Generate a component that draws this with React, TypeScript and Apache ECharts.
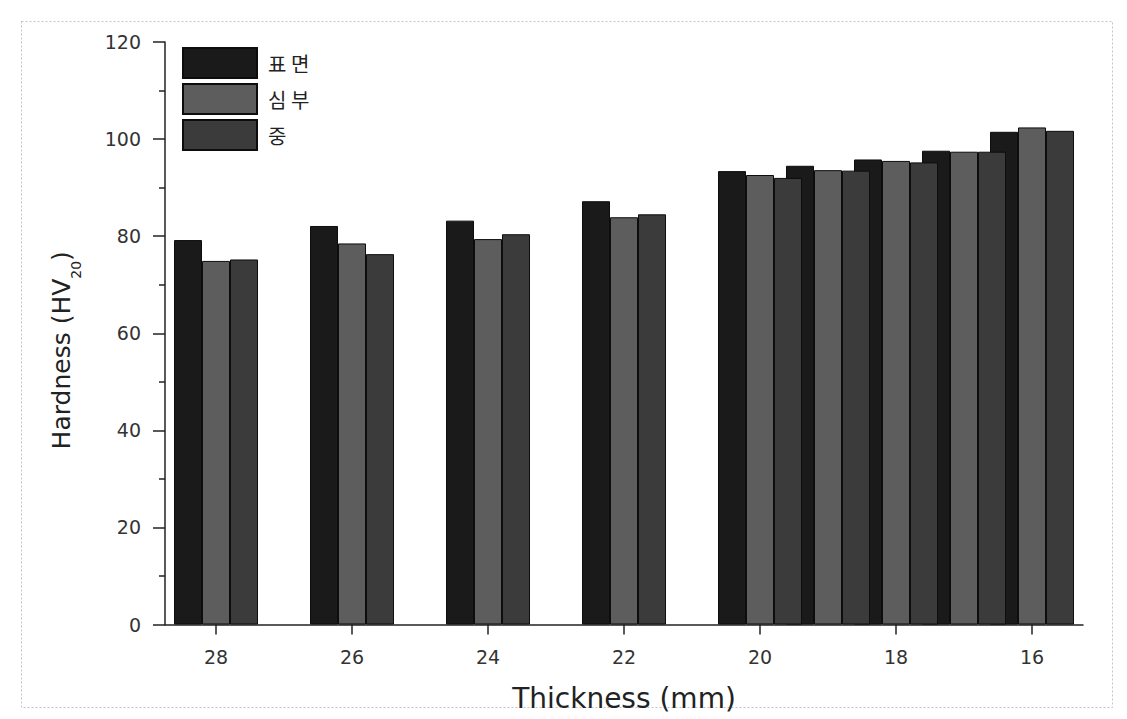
import { useEffect, useRef } from "react";
import * as echarts from "echarts";

// Thickness categories (mm), read left to right
const thickness = [28, 26, 24, 22, 20, 19, 18, 17, 16];
// Hardness values per series
const surface = [79.2, 82.1, 83.2, 87.2, 93.4, 94.5, 95.8, 97.6, 101.5];
const core = [74.9, 78.5, 79.4, 83.9, 92.6, 93.6, 95.5, 97.4, 102.4];
const middle = [75.2, 76.3, 80.4, 84.5, 92.0, 93.5, 95.2, 97.4, 101.7];
const seriesNames = ["표 면", "심 부", "중"];
// Tick labels
const xTicks = [16, 18, 20, 22, 24, 26, 28];

export default function App() {
  const ref = useRef<HTMLDivElement>(null);
  useEffect(() => {
    const chart = echarts.init(ref.current!, null, { renderer: "svg" });
    const font = "'DejaVu Sans', 'Liberation Sans', sans-serif";
    const colors = ["#1a1a1a", "#5d5d5d", "#3b3b3b"];
    const values = [surface, core, middle];
    chart.setOption({
      animation: false,
      backgroundColor: "#ffffff",
      grid: { left: 165, right: 44, top: 42, bottom: 94.5, containLabel: false },
      graphic: [
        {
          type: "rect",
          shape: { x: 21.5, y: 21.5, width: 1091, height: 686 },
          style: { fill: "none", stroke: "#c4c4c4", lineWidth: 1, lineDash: [2, 2] },
          silent: true,
          z: -1,
        },
      ],
      legend: {
        orient: "vertical",
        left: 182,
        top: 47,
        padding: 0,
        itemWidth: 74,
        itemHeight: 30,
        itemGap: 4,
        icon: "rect",
        data: seriesNames,
        textStyle: { fontFamily: "'Noto Sans CJK KR', sans-serif", fontSize: 20, color: "#222", padding: [0, 0, 0, 6] },
      },
      xAxis: {
        type: "value",
        inverse: true,
        min: 15.25,
        max: 28.75,
        name: "Thickness (mm)",
        nameLocation: "middle",
        nameGap: 60,
        nameTextStyle: { fontFamily: font, fontSize: 28, color: "#222" },
        axisLine: { show: true, onZero: false, lineStyle: { color: "#222", width: 1.5 } },
        axisTick: { show: true, inside: false, length: 10, customValues: xTicks, lineStyle: { color: "#222", width: 1.5 } },
        axisLabel: { customValues: xTicks, margin: 23, fontSize: 19, fontFamily: font, color: "#333" },
        splitLine: { show: false },
      },
      yAxis: {
        type: "value",
        min: 0,
        max: 120,
        interval: 20,
        name: "{a|Hardness (HV}{sub|20}{a|)}",
        nameLocation: "middle",
        nameGap: 91,
        nameRotate: 90,
        nameTextStyle: {
          padding: [0, 34, 0, 0],
          rich: {
            a: { fontFamily: font, fontSize: 25, color: "#222", lineHeight: 25, verticalAlign: "top" },
            sub: { fontFamily: font, fontSize: 14, color: "#222", lineHeight: 14, verticalAlign: "top", padding: [20, 0, 0, 0] },
          },
        },
        axisLine: { show: true, lineStyle: { color: "#222", width: 1.5 } },
        axisTick: { show: true, inside: false, length: 12, lineStyle: { color: "#222", width: 1.5 } },
        minorTick: { show: true, splitNumber: 2, length: 6, lineStyle: { color: "#222", width: 1.5 } },
        axisLabel: { margin: 24, fontSize: 19, fontFamily: font, color: "#333" },
        splitLine: { show: false },
      },
      series: seriesNames.map((name, i) => ({
        type: "bar",
        name,
        data: thickness.map((t, j) => [t, values[i][j]]),
        barWidth: 28,
        barGap: "0%",
        itemStyle: { color: colors[i], borderColor: "#0d0d0d", borderWidth: 1 },
      })),
    });
    return () => chart.dispose();
  }, []);
  return <div ref={ref} style={{ position: "fixed", left: 0, top: 0, width: 1127, height: 719 }} />;
}
